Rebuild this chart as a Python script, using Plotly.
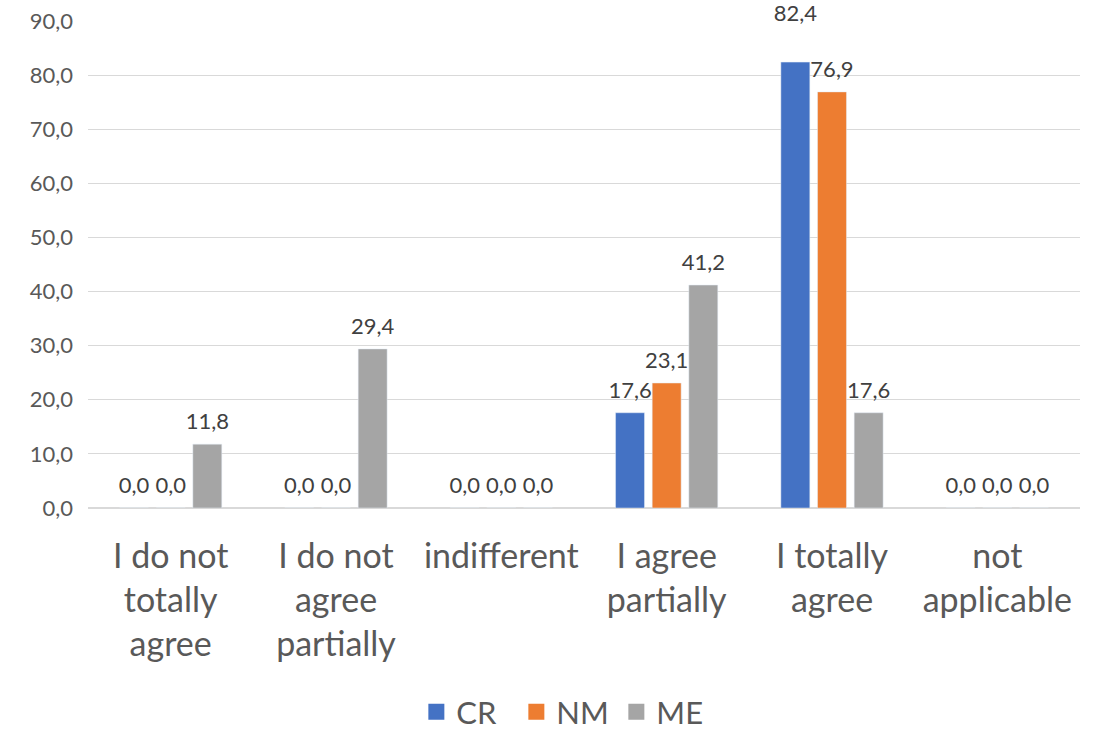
import plotly.graph_objects as go

categories = ["I do not<br>totally<br>agree", "I do not<br>agree<br>partially", "indifferent",
              "I agree<br>partially", "I totally<br>agree", "not<br>applicable"]
series_names = ["CR", "NM", "ME"]
cr = [0.0, 0.0, 0.0, 17.6, 82.4, 0.0]
nm = [0.0, 0.0, 0.0, 23.1, 76.9, 0.0]
me = [11.8, 29.4, 0.0, 41.2, 17.6, 0.0]
colors = ["#4472C4", "#ED7D31", "#A5A5A5"]
# label offsets (invisible marker sizes); the 82,4 label sits higher to avoid 76,9
label_pad = [[14, 14, 14, 14, 56, 14], [14] * 6, [14] * 6]

FONT = "Lato, Liberation Sans, sans-serif"
BARGAP = 0.335

fig = go.Figure()
for name, vals, col in zip(series_names, [cr, nm, me], colors):
    fig.add_trace(go.Bar(
        x=categories, y=vals, name=name, marker_color=col, offsetgroup=name,
        showlegend=False, hoverinfo="x+y",
    ))
for name, vals, pad in zip(series_names, [cr, nm, me], label_pad):
    # value labels, grouped exactly like the bars
    fig.add_trace(go.Scatter(
        x=categories, y=vals, name=name, offsetgroup=name, mode="markers+text",
        marker=dict(size=pad, color="rgba(0,0,0,0)", opacity=0, line=dict(width=0)),
        text=[f"{v:.1f}".replace(".", ",") for v in vals],
        textposition="top center", cliponaxis=False,
        textfont=dict(size=22, color="#404040", family=FONT),
        showlegend=False, hoverinfo="skip",
    ))
for name, col in zip(series_names, colors):
    # legend entries
    fig.add_trace(go.Scatter(
        x=[None], y=[None], name=name, offsetgroup=name, mode="markers",
        marker=dict(symbol="square", size=20, color=col, line=dict(width=0)), showlegend=True,
    ))

fig.update_layout(
    width=1104, height=731,
    paper_bgcolor="white", plot_bgcolor="white",
    margin=dict(l=88, r=24, t=21, b=223, autoexpand=False),
    barmode="group", bargap=BARGAP, bargroupgap=0.21,
    scattermode="group", scattergap=BARGAP,
    separators=",.",
    font=dict(family=FONT, color="#595959"),
    showlegend=True,
    legend=dict(orientation="h", x=0.513, xanchor="center", xref="container",
                y=0.026, yanchor="middle", yref="container",
                font=dict(size=31, color="#595959", family=FONT),
                itemwidth=30, entrywidth=55, traceorder="normal"),
    yaxis=dict(range=[0, 90], dtick=10, tickformat=".1f", showgrid=True,
               gridcolor="#D9D9D9", gridwidth=1, zeroline=True, zerolinecolor="#D9D9D9",
               tickfont=dict(size=22, color="#595959"), ticks="", ticklabelstandoff=14,
               automargin=False),
    xaxis=dict(tickfont=dict(size=34, color="#595959"), showline=False, ticks="",
               ticklabelstandoff=25, automargin=False),
)

fig.write_html("out.html")
